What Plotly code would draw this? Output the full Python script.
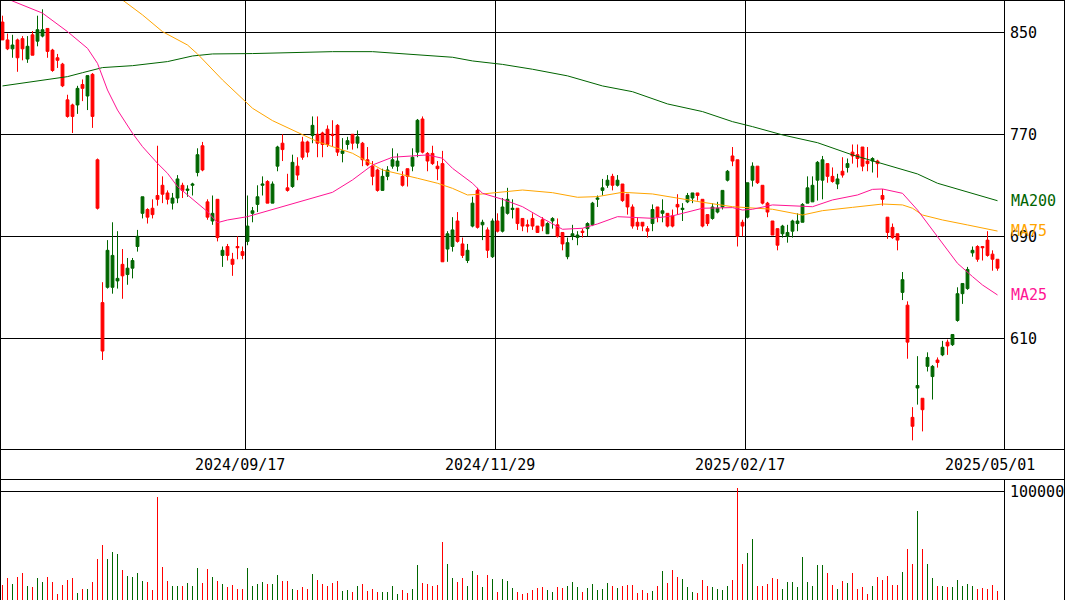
import plotly.graph_objects as go

# ---- daily prices (trading-day index 0 = 2024/07/05 ... 199 = 2025/05/01) ----
opens = [
    858, 844, 837, 844, 845, 829, 848, 843, 847, 853, 836, 830, 825, 797, 793, 793, 809, 800, 817, 750,
    638, 650, 650, 655, 668, 660, 665, 682, 708, 711, 712, 722, 730, 724, 716, 720, 730, 726, 730, 740,
    761, 717, 702, 719, 675, 682, 672, 682, 678, 686, 708, 715, 730, 733, 716, 745, 763, 728, 729, 745,
    764, 764, 769, 770, 771, 774, 770, 777, 755, 762, 770, 763, 763, 750, 745, 742, 726, 737, 745, 745,
    737, 743, 745, 756, 782, 755, 755, 745, 747, 680, 682, 702, 684, 671, 698, 726, 699, 695, 674, 702,
    694, 708, 711, 712, 704, 699, 704, 698, 703, 692, 702, 699, 693, 674, 690, 689, 694, 696, 699, 719,
    726, 730, 737, 730, 731, 723, 713, 701, 701, 696, 700, 713, 708, 708, 706, 715, 711, 717, 720, 724,
    719, 707, 704, 709, 713, 734, 753, 750, 701, 705, 734, 745, 730, 716, 702, 696, 692, 690, 694, 700,
    701, 716, 717, 734, 734, 747, 737, 731, 741, 744, 756, 754, 760, 749, 749, 749, 722, 705, 697, 692,
    646, 636, 548, 571, 563, 588, 580, 593, 597, 607, 605, 624, 645, 649, 677, 682, 682, 687, 676, 672,
]
highs = [
    863, 849, 848, 845, 847, 847, 851, 863, 868, 853, 837, 833, 826, 801, 794, 808, 813, 816, 818, 751,
    654, 687, 701, 694, 680, 673, 673, 695, 721, 712, 719, 761, 737, 726, 724, 738, 732, 730, 732, 759,
    764, 719, 722, 719, 682, 684, 677, 690, 682, 722, 713, 730, 737, 734, 733, 761, 770, 739, 754, 752,
    768, 765, 784, 784, 772, 777, 781, 778, 767, 768, 770, 773, 764, 760, 749, 743, 743, 745, 759, 755,
    741, 743, 759, 782, 784, 756, 761, 749, 757, 694, 705, 709, 689, 684, 721, 728, 703, 697, 704, 708,
    720, 728, 719, 712, 704, 703, 708, 698, 705, 701, 705, 704, 693, 689, 699, 694, 696, 701, 717, 722,
    735, 738, 739, 738, 731, 723, 715, 705, 701, 698, 715, 713, 719, 708, 711, 723, 716, 724, 724, 724,
    719, 707, 716, 717, 726, 742, 760, 750, 703, 732, 748, 745, 730, 717, 702, 696, 699, 699, 703, 708,
    716, 737, 737, 749, 753, 747, 744, 739, 752, 751, 762, 762, 760, 760, 752, 750, 727, 705, 700, 692,
    662, 639, 556, 596, 563, 599, 589, 595, 608, 609, 613, 650, 653, 666, 682, 683, 682, 694, 679, 672,
]
lows = [
    844, 836, 830, 819, 828, 826, 832, 839, 846, 830, 819, 822, 807, 783, 771, 786, 796, 789, 775, 711,
    593, 649, 645, 649, 641, 652, 657, 678, 704, 700, 704, 714, 716, 715, 711, 716, 720, 721, 722, 737,
    741, 703, 699, 686, 666, 671, 659, 672, 672, 683, 701, 709, 722, 716, 716, 741, 749, 725, 728, 734,
    750, 752, 763, 752, 752, 760, 760, 753, 748, 758, 758, 759, 745, 745, 730, 725, 726, 734, 743, 741,
    729, 729, 741, 752, 755, 741, 746, 734, 670, 670, 678, 685, 673, 669, 697, 696, 687, 673, 673, 693,
    693, 707, 704, 695, 694, 693, 695, 693, 694, 692, 696, 689, 679, 672, 687, 683, 689, 690, 698, 713,
    722, 728, 726, 729, 717, 707, 696, 695, 694, 689, 694, 701, 701, 697, 697, 707, 702, 716, 716, 718,
    697, 698, 703, 708, 711, 733, 745, 682, 690, 704, 729, 731, 715, 705, 691, 679, 689, 685, 689, 694,
    701, 716, 717, 718, 719, 732, 732, 727, 736, 740, 747, 744, 741, 741, 740, 736, 714, 688, 688, 679,
    640, 594, 530, 558, 537, 584, 562, 587, 596, 597, 604, 623, 637, 648, 674, 670, 671, 674, 663, 663,
]
closes = [
    844, 837, 840, 830, 837, 839, 832, 852, 852, 835, 820, 828, 808, 784, 784, 806, 806, 816, 784, 712,
    600, 679, 675, 657, 659, 665, 671, 690, 721, 705, 707, 719, 723, 719, 720, 735, 726, 727, 731, 754,
    742, 705, 708, 689, 679, 675, 668, 681, 675, 698, 710, 721, 731, 716, 731, 760, 758, 726, 748, 738,
    752, 756, 777, 763, 762, 762, 769, 756, 757, 765, 763, 768, 750, 746, 737, 726, 737, 742, 750, 749,
    730, 737, 752, 781, 756, 749, 747, 743, 670, 692, 695, 686, 675, 679, 716, 697, 701, 679, 702, 694,
    713, 719, 712, 700, 698, 698, 698, 693, 698, 700, 704, 690, 684, 685, 692, 691, 693, 700, 716, 720,
    728, 734, 730, 734, 718, 713, 698, 698, 698, 694, 711, 705, 710, 698, 698, 713, 712, 722, 724, 722,
    698, 700, 713, 712, 726, 741, 749, 690, 698, 732, 745, 732, 716, 709, 691, 683, 698, 693, 702, 702,
    715, 728, 730, 748, 750, 737, 733, 735, 738, 747, 753, 751, 745, 747, 751, 747, 719, 693, 689, 687,
    656, 607, 541, 573, 554, 595, 588, 591, 603, 604, 613, 645, 653, 664, 679, 672, 681, 675, 672, 665,
]
volumes = [
    14100, 20000, 15000, 20900, 25300, 12500, 11600, 20000, 16900, 20900,
    16200, 5900, 14100, 18700, 20000, 6600, 10600, 10600, 16200, 37800,
    50600, 37800, 44000, 42500, 27500, 22500, 20900, 25300, 17800, 16200,
    9400, 95600, 30300, 17800, 13100, 13100, 12500, 15900, 12500, 29400,
    15900, 28400, 21600, 17800, 15000, 11600, 14100, 10600, 10600, 29400,
    13100, 15000, 16900, 15000, 15000, 22800, 17800, 17800, 10600, 9400,
    11600, 10600, 24400, 18700, 15000, 13100, 15900, 17800, 8400, 9400,
    7500, 12500, 15000, 8400, 10300, 7500, 7500, 7500, 13100, 5600,
    9400, 6600, 10300, 31900, 15900, 15000, 13100, 14100, 53400, 33700,
    20600, 16900, 20600, 13100, 27200, 23400, 12200, 23400, 19700, 7500,
    19700, 17800, 11200, 7500, 5600, 6600, 9400, 11200, 12200, 9400,
    7500, 12200, 11200, 13100, 16900, 12200, 7500, 11200, 15000, 9400,
    10300, 15900, 13100, 11200, 13100, 14100, 14100, 6600, 9400, 6600,
    8400, 13100, 27200, 15900, 28100, 21600, 19700, 12200, 7500, 6600,
    18700, 13100, 12200, 10300, 9400, 13100, 18700, 103100, 32800, 43100,
    56200, 13100, 13100, 15000, 20600, 19700, 10300, 16900, 16900, 12200,
    39400, 16900, 13100, 31900, 31900, 25300, 14100, 10300, 17800, 15900,
    25300, 10300, 12200, 5600, 13100, 21600, 18700, 22500, 14100, 14100,
    26200, 46900, 32800, 82500, 46900, 33700, 20600, 13100, 13100, 12200,
    12200, 18700, 13100, 15000, 13100, 10300, 11200, 10300, 14100, 8400,
]

# ---- moving averages, sampled at (day index, value) ----
ma25_x = [0, 2, 8, 13, 17, 19, 21, 23, 26, 28, 31, 33, 35, 39, 41, 43, 45, 49, 60, 66, 70, 74, 78,
          83, 85, 88, 90, 94, 96, 100, 104, 108, 112, 116, 119, 123, 130, 134, 140, 146, 148, 150,
          154, 162, 166, 171, 174, 176, 180, 183, 187, 191, 194, 196, 199]
ma25_y = [878, 874.5, 865, 850.5, 837.4, 825.6, 804.7, 789, 770.8, 760.3, 747.2, 739.4, 729, 715.9,
          709.3, 700.7, 702.8, 705.4, 717.7, 724.5, 734.2, 745.9, 752, 753, 753.8, 751.2, 743.3,
          731.6, 723.7, 719, 713.2, 704.1, 695.5, 696.3, 699.7, 705.4, 704.1, 706, 712, 712.5, 710.6,
          711.2, 714.6, 713.2, 718.5, 722.4, 726.8, 727.1, 723.7, 710.6, 689.7, 668.8, 658.4, 651.8,
          644]
ma75_x = [20, 24, 28, 32, 37, 39, 44, 50, 54, 58, 63, 70, 76, 83, 87, 90, 93, 96, 100, 104, 110,
          115, 119, 124, 130, 135, 140, 146, 150, 154, 160, 164, 170, 176, 180, 182, 184, 188, 193,
          199]
ma75_y = [886, 875.3, 863.6, 850.5, 840, 833, 812.6, 790.4, 780.7, 773.4, 764.2, 755.1, 742, 735.5,
          731.6, 727.6, 722.4, 723.2, 725, 726.3, 724.2, 720.6, 721.1, 724.5, 723.2, 719.8, 716.7,
          713.2, 712, 711.2, 706.7, 710.1, 712.7, 715.3, 714.6, 712, 706.7, 702.8, 698.9, 694.1]
ma200_x = [0, 6, 13, 16, 20, 26, 33, 38, 42, 50, 66, 74, 80, 83, 90, 94, 100, 106, 113, 120, 126,
           133, 140, 146, 150, 156, 163, 170, 178, 183, 187, 193, 199]
ma200_y = [807.9, 811.3, 815.2, 818.3, 822.3, 823.8, 827, 831.4, 833, 833.3, 834.8, 834.8, 833,
           831.9, 830.4, 827.5, 824.8, 821, 815.8, 807.9, 803.4, 793.8, 787.8, 779.9, 776, 769.5,
           763.4, 753.8, 744.6, 738.9, 731.6, 725, 717.9]

# ---- axis labels ----
price_ticks = [610, 690, 770, 850]
volume_ticks = [100000]
date_tick_idx = [49, 99, 149, 199]
date_tick_text = ["2024/09/17", "2024/11/29", "2025/02/17", "2025/05/01"]

# ---- styling ----
W, H = 1065, 600
UP, DOWN = "#006600", "#ff0000"
C25, C75, C200 = "#ff1493", "#ffa500", "#006400"
FONT = dict(family="DejaVu Sans Mono", size=15, color="black")

PANEL_R = 1004          # right edge of chart panels, px
PRICE_B = 449           # bottom of price panel, px
VOL_T = 479.3           # top of volume panel, px


def px_x(p):
    return p / W


def px_y(p):
    return 1 - p / H


idx = list(range(len(closes)))
vol_colors = [UP if c > o else DOWN for o, c in zip(opens, closes)]

fig = go.Figure()

fig.add_trace(go.Candlestick(
    x=idx, open=opens, high=highs, low=lows, close=closes,
    increasing=dict(line=dict(color=UP, width=1), fillcolor=UP),
    decreasing=dict(line=dict(color=DOWN, width=1), fillcolor=DOWN),
    whiskerwidth=0, xaxis="x", yaxis="y", hoverinfo="skip",
))

for xs, ys, col in [(ma200_x, ma200_y, C200), (ma75_x, ma75_y, C75), (ma25_x, ma25_y, C25)]:
    fig.add_trace(go.Scatter(x=xs, y=ys, mode="lines", line=dict(color=col, width=1),
                             xaxis="x", yaxis="y", hoverinfo="skip"))

fig.add_trace(go.Bar(x=idx, y=volumes, width=0.2, marker=dict(color=vol_colors, line=dict(width=0)),
                     xaxis="x2", yaxis="y2", hoverinfo="skip"))

# right-hand MA labels sit at each average's latest value
annotations = []
for name, ys, col in [("MA200", ma200_y, C200), ("MA75", ma75_y, C75), ("MA25", ma25_y, C25)]:
    annotations.append(dict(x=px_x(1009), y=ys[-1], xref="paper", yref="y", text=name,
                            showarrow=False, xanchor="left", yanchor="middle",
                            font=dict(family=FONT["family"], size=FONT["size"], color=col)))

# date labels in the strip between the panels
for i, t in zip(date_tick_idx, date_tick_text):
    annotations.append(dict(x=i, y=px_y(464.5), xref="x", yref="paper", text=t, xshift=-8,
                            showarrow=False, xanchor="center", yanchor="middle", font=FONT))

# frame lines
line = dict(color="black", width=1)
shapes = [
    dict(type="line", xref="paper", yref="paper", x0=px_x(0.5), x1=px_x(0.5), y0=0, y1=1, line=line),
    dict(type="line", xref="paper", yref="paper", x0=px_x(1064.5), x1=px_x(1064.5), y0=0, y1=1, line=line),
    dict(type="line", xref="paper", yref="paper", x0=0, x1=1, y0=px_y(0.5), y1=px_y(0.5), line=line),
    dict(type="line", xref="paper", yref="paper", x0=0, x1=1, y0=px_y(PRICE_B + 0.5), y1=px_y(PRICE_B + 0.5), line=line),
    dict(type="line", xref="paper", yref="paper", x0=0, x1=1, y0=px_y(479.5), y1=px_y(479.5), line=line),
    dict(type="line", xref="paper", yref="paper", x0=px_x(PANEL_R + 0.5), x1=px_x(PANEL_R + 0.5),
         y0=px_y(PRICE_B + 0.5), y1=1, line=line),
    dict(type="line", xref="paper", yref="paper", x0=px_x(PANEL_R + 0.5), x1=px_x(PANEL_R + 0.5),
         y0=0, y1=px_y(479.5), line=line),
]

xr = [-0.5, 200.3]
fig.update_layout(
    width=W, height=H, autosize=False,
    margin=dict(l=0, r=0, t=0, b=0, pad=0),
    paper_bgcolor="white", plot_bgcolor="white",
    showlegend=False, hovermode=False,
    boxgap=0.2, bargap=0,
    font=FONT,
    xaxis=dict(domain=[0, px_x(PANEL_R)], range=xr, anchor="y",
               tickvals=[i - 0.35 for i in date_tick_idx[:-1]], showticklabels=False,
               showgrid=True, gridcolor="black", gridwidth=1, zeroline=False,
               showline=False, ticks="", rangeslider=dict(visible=False), fixedrange=True),
    yaxis=dict(domain=[px_y(PRICE_B), 1], range=[523.2, 875.3], side="right", anchor="x",
               tickvals=price_ticks, ticktext=[str(v) for v in price_ticks],
               showgrid=True, gridcolor="black", gridwidth=1, zeroline=False, showline=False,
               ticks="", ticklabelstandoff=5, tickfont=FONT, fixedrange=True),
    xaxis2=dict(domain=[0, px_x(PANEL_R)], range=xr, anchor="y2", matches="x",
                showticklabels=False, showgrid=False, zeroline=False, showline=False, ticks=""),
    yaxis2=dict(domain=[0, px_y(VOL_T)], range=[0, 111500], side="right", anchor="x2",
                tickvals=volume_ticks, ticktext=[str(v) for v in volume_ticks],
                showgrid=True, gridcolor="black", gridwidth=1, zeroline=False, showline=False,
                ticks="", ticklabelstandoff=5, tickfont=FONT, fixedrange=True),
    annotations=annotations,
    shapes=shapes,
)

fig.write_html("out.html", config=dict(displayModeBar=False, staticPlot=True))
